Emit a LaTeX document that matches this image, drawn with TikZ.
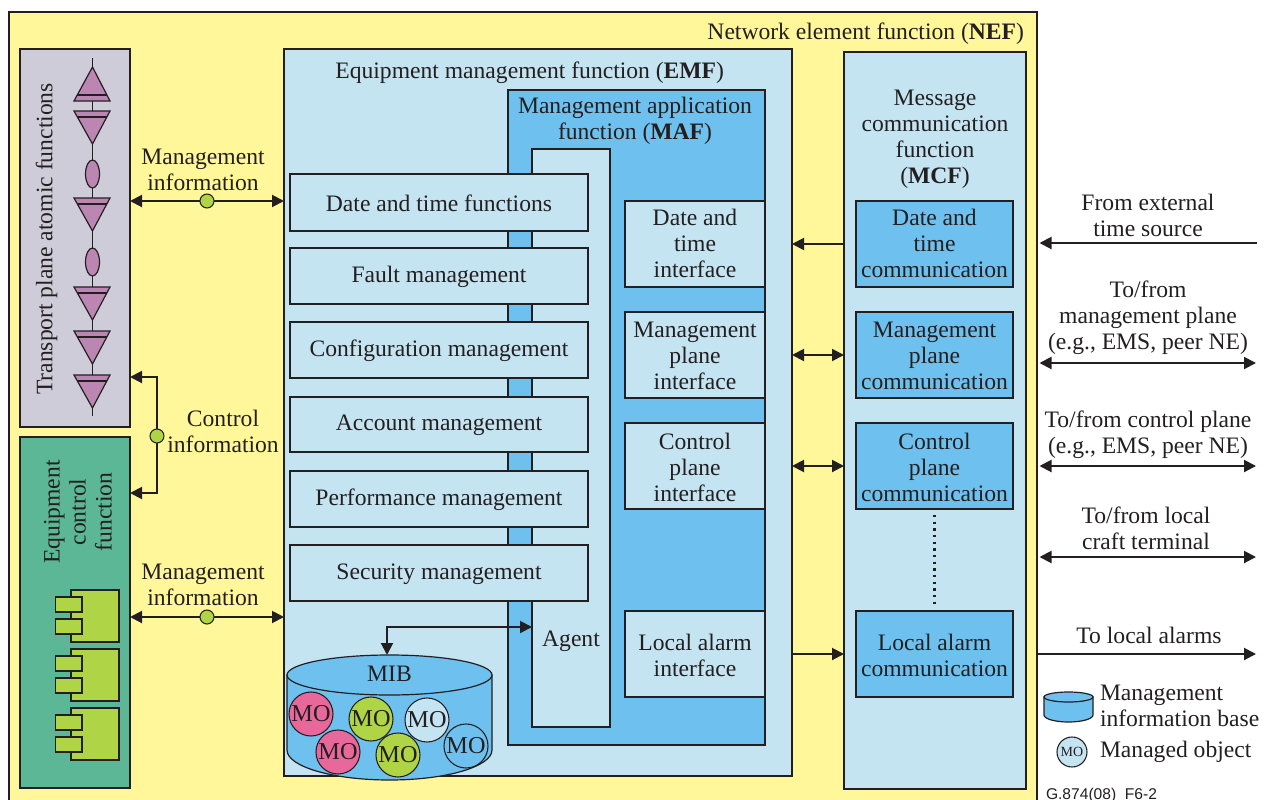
\documentclass[tikz,border=0pt]{standalone}
\usepackage{fontspec}
\setmainfont{Liberation Serif}
\newfontfamily\capfont{Liberation Sans}
\usetikzlibrary{arrows.meta,shapes.geometric}
\definecolor{nefy}{HTML}{FFF799}
\definecolor{lblue}{HTML}{C5E4F2}
\definecolor{mblue}{HTML}{6EC1EE}
\definecolor{pinkmo}{HTML}{E8689B}
\definecolor{greenmo}{HTML}{AFD445}
\definecolor{purp}{HTML}{BC86B3}
\definecolor{greyb}{HTML}{CFCCD9}
\definecolor{teal2}{HTML}{5BB795}
\definecolor{ink}{HTML}{231F20}
\tikzset{
  x=0.75pt,y=-0.75pt,
  every node/.style={text=ink,inner sep=0pt,outer sep=0pt},
  lab/.style={font=\fontsize{17.7}{19.5}\selectfont,align=center},
  frame/.style={draw=ink,line width=2.2pt,rectangle},
  thin1/.style={draw=ink,line width=0.9pt},
  conn/.style={draw=ink,line width=1.5pt},
  oneway/.style={conn,-{Triangle[length=9pt,width=9pt]}},
  twoway/.style={conn,{Triangle[length=9pt,width=9pt]}-{Triangle[length=9pt,width=9pt]}},
  dotg/.style={circle,draw=ink,line width=0.8pt,fill=greenmo,minimum size=10.5pt},
  mo/.style={circle,draw=ink,line width=0.8pt,minimum size=33pt,font=\fontsize{18.2}{19}\selectfont},
  tri/.style={thin1,fill=purp},
  oval/.style={ellipse,thin1,fill=purp,minimum width=10.5pt,minimum height=21pt},
  comp/.style={thin1,fill=greenmo},
  cyl/.style={draw=ink,line width=0.9pt,fill=mblue},
}
\def\tsh{1}
\newcommand{\bx}[7]{\node[frame,#6,minimum width={(#4-#2)*0.75pt},minimum height={(#5-#3)*0.75pt}] (#1) at ({(#2+#4)/2},{(#3+#5)/2}) {};
  \node[lab] (#1-t) at ({(#2+#4)/2},{(#3+#5)/2+\tsh}) {#7};}
\newcommand{\trid}[1]{%
  \draw[tri] (74,#1) -- (110,#1) -- (92.5,#1+33) -- cycle;
  \draw[thin1] (77,#1+6) -- (107,#1+6);}
\newcommand{\compo}[1]{%
  \draw[comp] (71,#1) rectangle (119,#1+52);
  \draw[comp] (55.5,#1+7) rectangle (82,#1+22);
  \draw[comp] (55.5,#1+29) rectangle (82,#1+44);}
\begin{document}
\begin{tikzpicture}
\useasboundingbox (0,0) rectangle (1265,800);
\begin{scope}
\clip (0,0) rectangle (1265,800);
\bx{nef}{9}{12}{1037}{815}{fill=nefy}{}
\end{scope}
\node[lab,anchor=east] (neft) at (1024,33.5) {Network element function (\textbf{NEF})};
% left blocks
\bx{grey}{20}{49}{130}{427}{fill=greyb}{}
\bx{ecf}{20}{437}{130}{788}{fill=teal2}{}
\node[lab,rotate=90] (tpl) at (46.5,239) {Transport plane atomic functions};
\node[lab,rotate=90] (ecl) at (78,512) {Equipment\\control\\function};
% transport chain
\draw[thin1] (92.5,58) -- (92.5,416);
\draw[tri] (74,101) -- (110,101) -- (92.5,67) -- cycle;
\draw[thin1] (77,95) -- (107,95);
\trid{111}
\node[oval] (ov1) at (92.5,174) {};
\trid{198}
\node[oval] (ov2) at (92.5,262) {};
\trid{287}
\trid{331}
\trid{375}
% components
\compo{590}
\compo{649}
\compo{708}
% EMF
\bx{emf}{284}{49}{792}{776}{fill=lblue}{}
\node[lab,anchor=east] (emft) at (724,73) {Equipment management function (\textbf{EMF})};
\bx{maf}{508}{90}{765}{745}{fill=mblue}{}
\node[lab] (maft) at (635,120.5) {Management application\\function (\textbf{MAF})};
\bx{agent}{532}{149}{610}{727}{fill=lblue}{}
\node[lab] (agt) at (571,641.5) {Agent};
\bx{f1}{290}{174}{588}{231}{fill=lblue}{Date and time functions}
\bx{f2}{290}{248}{588}{304}{fill=lblue}{Fault management}
\bx{f3}{290}{322}{588}{378}{fill=lblue}{Configuration management}
\bx{f4}{290}{397}{588}{452}{fill=lblue}{Account management}
\bx{f5}{290}{471}{588}{527}{fill=lblue}{Performance management}
\bx{f6}{290}{545}{588}{601}{fill=lblue}{Security management}
\def\tsh{-0.5}
\bx{i1}{625}{201}{765}{287}{fill=lblue}{Date and\\time\\interface}
\def\tsh{1}
\bx{i2}{625}{312}{765}{398}{fill=lblue}{Management\\plane\\interface}
\bx{i3}{625}{423}{765}{509}{fill=lblue}{Control\\plane\\interface}
\bx{i4}{625}{611}{765}{697}{fill=lblue}{Local alarm\\interface}
% MCF
\bx{mcf}{844}{52}{1026}{789}{fill=lblue}{}
\node[lab] (mcft) at (935,139) {Message\\communication\\function\\(\textbf{MCF})};
\def\tsh{-0.5}
\bx{c1}{856}{201}{1013}{287}{fill=mblue}{Date and\\time\\communication}
\def\tsh{1}
\bx{c2}{856}{312}{1013}{398}{fill=mblue}{Management\\plane\\communication}
\bx{c3}{856}{423}{1013}{509}{fill=mblue}{Control\\plane\\communication}
\bx{c4}{856}{611}{1013}{697}{fill=mblue}{Local alarm\\communication}
\draw[draw=ink,line width=1.8pt,dash pattern=on 1.8pt off 3.2pt,shorten <=4.5pt,shorten >=4.5pt] (c3.south) -- (c4.north);
% MIB
\draw[cyl] (287,675) -- (287,750) arc[start angle=180,end angle=0,x radius=102.5,y radius=30] -- (492,675) -- cycle;
\draw[cyl] (389.5,675) ellipse[x radius=102.5,y radius=20];
\node[lab] (mib) at (389.5,674) {MIB};
\coordinate (mibtop) at (387,655);
\node[mo,fill=pinkmo] (m1) at (311,714) {MO};
\node[mo,fill=greenmo] (m3) at (371,719) {MO};
\node[mo,fill=lblue] (m5) at (427,720) {MO};
\node[mo,fill=mblue] (m6) at (466,746) {MO};
\node[mo,fill=pinkmo] (m2) at (338,752) {MO};
\node[mo,fill=greenmo] (m4) at (398,755) {MO};
% left connectors
\coordinate (mi1) at (284,201);
\coordinate (mi2) at (284,617);
\coordinate (ci1) at (157,377);
\coordinate (ci2) at (157,493);
\draw[twoway] (mi1 -| grey.east) -- (mi1);
\draw[twoway] (mi2 -| ecf.east) -- (mi2);
\draw[twoway] (ci1 -| grey.east) -- (ci1) -- (ci2) -- (ci2 -| ecf.east);
\node[dotg] (d1) at (207,201) {};
\node[dotg] (d2) at (207,617) {};
\node[dotg] (d3) at (157,436) {};
\node[lab] (l1) at (203,170) {Management\\information};
\node[lab] (l2) at (203,585) {Management\\information};
\node[lab] (l3) at (223,431) {Control\\information};
% agent-MIB
\coordinate (ag) at (532,627);
\draw[twoway] (mibtop) |- (ag);
% MCF to EMF
\draw[oneway] (c1.west -| mcf.west) -- (c1.west -| emf.east);
\draw[twoway] (c2.west -| mcf.west) -- (c2.west -| emf.east);
\draw[twoway] (c3.west -| mcf.west) -- (c3.west -| emf.east);
\draw[oneway] (c4.west -| emf.east) -- (c4.west -| mcf.west);
% right side
\coordinate (r1) at (1257,243);
\coordinate (r2) at (1256,363);
\coordinate (r3) at (1256,466);
\coordinate (r4) at (1256,557);
\coordinate (r5) at (1256,654);
\coordinate (nefe) at (1039.5,400);
\draw[oneway] (r1) -- (r1 -| nefe);
\draw[twoway] (r2 -| nefe) -- (r2);
\draw[twoway] (r3 -| nefe) -- (r3);
\draw[twoway] (r4 -| nefe) -- (r4);
\draw[oneway] (r5 -| nef.east) -- (r5);
\node[lab] (t1) at (1148,215) {From external\\time source};
\node[lab] (t2) at (1148,318) {To/from\\management plane\\(e.g., EMS, peer NE)};
\node[lab] (t3) at (1148,435) {To/from control plane\\(e.g., EMS, peer NE)};
\node[lab] (t4) at (1146,528) {To/from local\\craft terminal};
\node[lab] (t5) at (1149,635) {To local alarms};
% legend
\draw[cyl] (1044,697) -- (1044,715) arc[start angle=180,end angle=0,x radius=24.5,y radius=7] -- (1093,697) -- cycle;
\draw[cyl] (1068.5,697) ellipse[x radius=24.5,y radius=5];
\node[circle,draw=ink,line width=0.8pt,fill=lblue,minimum size=22.5pt,font=\fontsize{10.5}{12}\selectfont] (lmo) at (1072,752) {MO};
\node[lab,align=left,anchor=west] (t6) at (1100,706) {Management\\information base};
\node[lab,anchor=west] (t7) at (1100,751.5) {Managed object};
\node[font=\capfont\fontsize{11.7}{12}\selectfont,anchor=west] (cap) at (1046,795) {G.874(08)\_F6-2};
\end{tikzpicture}
\end{document}
